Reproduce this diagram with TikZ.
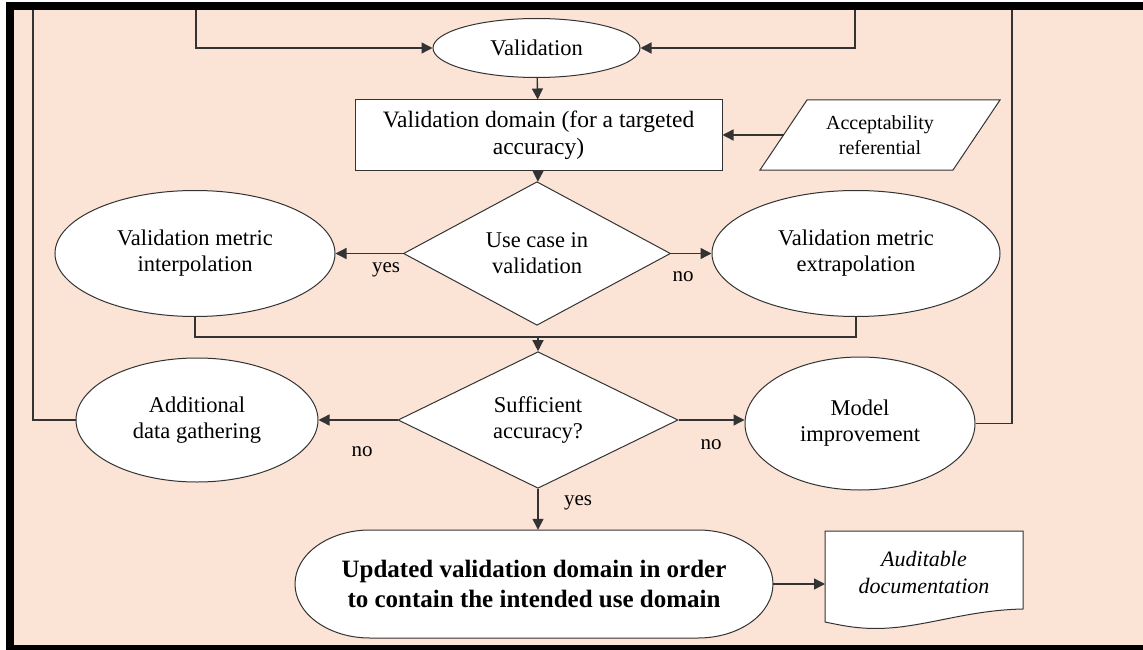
\documentclass[tikz,border=0pt]{standalone}
\usepackage{fontspec}
\setmainfont{Liberation Serif}
\usetikzlibrary{shapes.geometric,arrows.meta}
\definecolor{peach}{HTML}{FBE4D6}
\definecolor{ln}{HTML}{333333}
\begin{document}
\begin{tikzpicture}[x=1pt,y=-1pt,
  txt/.style={font=\fontsize{22.5}{26}\selectfont, align=center, inner sep=0pt},
  shp/.style={txt, draw=ln, line width=1pt, fill=white},
  ell/.style={shp, ellipse},
  dia/.style={shp, diamond},
  lab/.style={font=\fontsize{21}{24}\selectfont, inner sep=0pt},
  conn/.style={draw=ln, line width=1.4pt},
  arr/.style={conn, -{Triangle[length=11pt,width=11pt]}}]
\useasboundingbox (0,0) rectangle (1143,650);
\fill[white] (0,0) rectangle (1143,650);
\fill[peach] (14,10) rectangle (1143,645);

% nodes
\node[ell, minimum width=207, minimum height=59] (val) at (536.5,48) {Validation};
\node[shp, minimum width=367, minimum height=70, font=\fontsize{23.5}{27}\selectfont] (dom) at (538.5,135) {Validation domain (for a targeted\\accuracy)};
\draw[ln, line width=1pt, fill=white] (807,100) -- (1000,100) -- (953,170) -- (760,170) -- cycle;
\node[txt, font=\fontsize{20}{25}\selectfont] (acc) at (880,135) {Acceptability\\referential};
\coordinate (accin) at (783.5,135);
\node[dia, minimum width=267, minimum height=124] (d1) at (537,253.5) {Use case in\\validation};
\node[ell, minimum width=280, minimum height=126] (interp) at (195,253.5) {Validation metric\\interpolation};
\node[ell, minimum width=288, minimum height=126] (extrap) at (856,253.5) {Validation metric\\extrapolation};
\node[dia, minimum width=280, minimum height=124] (d2) at (538,420) {Sufficient\\accuracy?};
\node[ell, minimum width=242, minimum height=124] (addl) at (197,420) {Additional\\data gathering};
\node[ell, minimum width=230, minimum height=133] (model) at (860,423.5) {Model\\improvement};

% terminator
\draw[ln, line width=1pt, fill=white] (370,530) -- (698,530)
  arc[start angle=-90, end angle=90, x radius=75, y radius=54] -- (370,638)
  arc[start angle=90, end angle=270, x radius=75, y radius=54] -- cycle;
\node[txt, font=\bfseries\fontsize{25}{30}\selectfont, minimum width=478, minimum height=108] (term) at (534,584) {Updated validation domain in order\\to contain the intended use domain};

% document
\draw[ln, line width=1pt, fill=white] (825,531) -- (1023,531) -- (1023,609)
  .. controls (975,610) and (940,622) .. (900,627)
  .. controls (865,631) and (845,626) .. (825,622) -- cycle;
\node[txt, font=\itshape\fontsize{22}{27}\selectfont] (doc) at (924,572) {Auditable\\documentation};
\coordinate (docin) at (825,584);

% connectors
\draw[arr] (val) -- (dom);
\draw[arr] (dom) -- (d1);
\draw[arr] (accin) -- (dom.east);
\draw[arr] (d1) -- (interp);
\draw[arr] (d1) -- (extrap);
\coordinate (merge) at (538,337);
\draw[conn] (interp.south) |- (merge) -| (extrap.south);
\draw[arr] (merge) -- (d2.north);
\draw[arr] (d2) -- (addl);
\draw[arr] (d2.east) -- (model.west |- d2.east);
\draw[arr] (d2.south) -- (d2.south |- term.north);
\draw[arr] (term.east) -- (docin);

% loop lines
\coordinate (ltop) at (33,8);
\coordinate (l2top) at (196,8);
\coordinate (rtop) at (1012,8);
\coordinate (r2top) at (855,8);
\draw[conn] (addl.west) -| (ltop);
\draw[arr] (l2top) |- (val.west);
\draw[conn] (model.east) -| (rtop);
\draw[arr] (r2top) |- (val.east);

% labels
\node[lab] at (386,270) {yes};
\node[lab] at (683,277) {no};
\node[lab] at (362,452) {no};
\node[lab] at (711,445) {no};
\node[lab] at (578,503) {yes};

% frame
\fill[black] (6,2) rectangle (1143,10);
\fill[black] (6,2) rectangle (14,650);
\fill[black] (6,645) rectangle (1143,650);
\end{tikzpicture}
\end{document}
